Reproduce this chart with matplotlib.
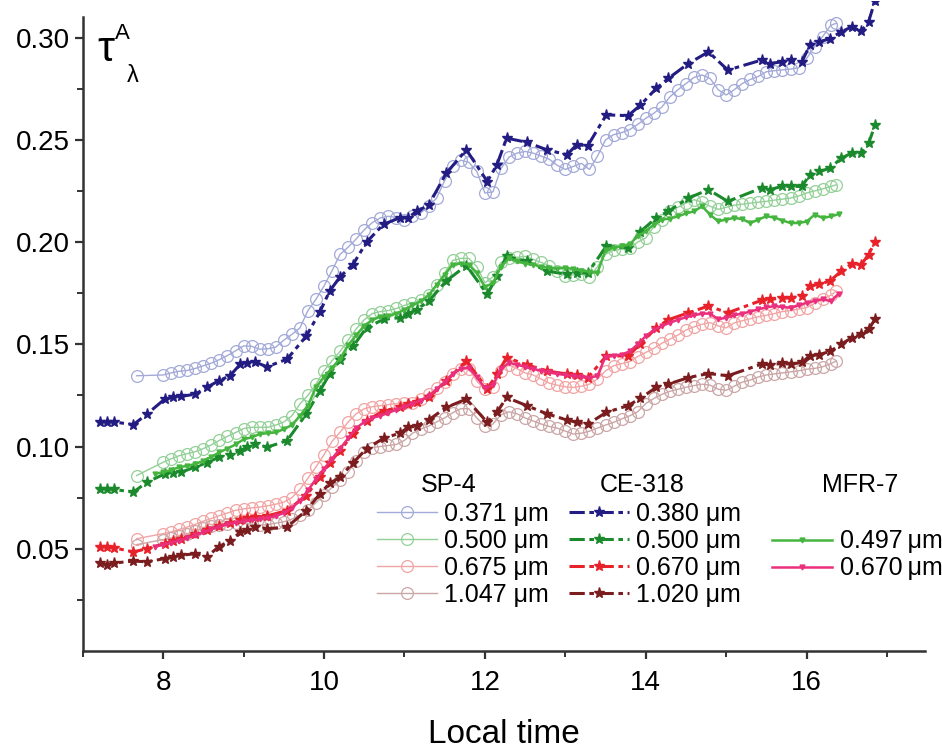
import matplotlib
matplotlib.use("Agg")
import matplotlib.pyplot as plt

plt.rcParams['font.family'] = ['Liberation Sans', 'DejaVu Sans']

# SP-4 sun photometer (open circles)
sp_time = [7.67, 8.0, 8.1, 8.2, 8.3, 8.4, 8.5, 8.6, 8.7, 8.8, 8.9, 9.0, 9.1, 9.2, 9.3, 9.4, 9.5,
           9.6, 9.7, 9.8, 9.9, 10.0, 10.1, 10.2, 10.3, 10.4, 10.5, 10.6, 10.7, 10.8, 10.9, 11.0,
           11.1, 11.2, 11.3, 11.4, 11.5, 11.6, 11.7, 11.8, 11.9, 12.0, 12.1, 12.2, 12.3, 12.4,
           12.5, 12.6, 12.7, 12.8, 12.9, 13.0, 13.1, 13.2, 13.3, 13.4, 13.5, 13.6, 13.7, 13.8,
           13.9, 14.0, 14.1, 14.2, 14.3, 14.4, 14.5, 14.6, 14.7, 14.8, 14.9, 15.0, 15.1, 15.2,
           15.3, 15.4, 15.5, 15.6, 15.7, 15.8, 15.9, 16.0, 16.1, 16.2, 16.3, 16.37]
sp_371 = [0.1346, 0.1350, 0.1360, 0.1368, 0.1372, 0.1382, 0.1395, 0.1408, 0.1425, 0.1445, 0.1468,
          0.1492, 0.1490, 0.1476, 0.1478, 0.1486, 0.1520, 0.1548, 0.1580, 0.1665, 0.1720, 0.1785,
          0.1860, 0.1940, 0.1975, 0.2015, 0.2060, 0.2095, 0.2118, 0.2126, 0.2120, 0.2110, 0.2125,
          0.2142, 0.2175, 0.2215, 0.2300, 0.2370, 0.2400, 0.2390, 0.2345, 0.2240, 0.2245, 0.2360,
          0.2415, 0.2435, 0.2443, 0.2435, 0.2420, 0.2405, 0.2375, 0.2355, 0.2370, 0.2385, 0.2355,
          0.2420, 0.2500, 0.2525, 0.2535, 0.2550, 0.2575, 0.2605, 0.2630, 0.2660, 0.2710, 0.2745,
          0.2775, 0.2805, 0.2817, 0.2800, 0.2745, 0.2719, 0.2745, 0.2775, 0.2795, 0.2810, 0.2833,
          0.2838, 0.2842, 0.2846, 0.2852, 0.2898, 0.2955, 0.3005, 0.3060, 0.3070]
sp_500 = [0.0858, 0.0923, 0.0940, 0.0955, 0.0965, 0.0975, 0.0990, 0.1008, 0.1030, 0.1050, 0.1068,
          0.1088, 0.1094, 0.1094, 0.1094, 0.1105, 0.1120, 0.1150, 0.1208, 0.1250, 0.1305, 0.1370,
          0.1420, 0.1465, 0.1520, 0.1575, 0.1620, 0.1650, 0.1660, 0.1665, 0.1675, 0.1690, 0.1703,
          0.1715, 0.1740, 0.1790, 0.1850, 0.1910, 0.1920, 0.1920, 0.1880, 0.1800, 0.1830, 0.1900,
          0.1922, 0.1925, 0.1930, 0.1915, 0.1900, 0.1885, 0.1860, 0.1835, 0.1840, 0.1842, 0.1830,
          0.1880, 0.1940, 0.1960, 0.1965, 0.1971, 0.2000, 0.2020, 0.2075, 0.2110, 0.2150, 0.2170,
          0.2190, 0.2207, 0.2195, 0.2175, 0.2160, 0.2170, 0.2180, 0.2185, 0.2190, 0.2195, 0.2199,
          0.2205, 0.2210, 0.2215, 0.2225, 0.2240, 0.2250, 0.2260, 0.2272, 0.2280]
sp_675 = [0.0549, 0.0574, 0.0582, 0.0595, 0.0606, 0.0620, 0.0635, 0.0648, 0.0662, 0.0675, 0.0688,
          0.0695, 0.0700, 0.0704, 0.0710, 0.0718, 0.0728, 0.0750, 0.0790, 0.0845, 0.0900, 0.0960,
          0.1025, 0.1070, 0.1120, 0.1160, 0.1185, 0.1195, 0.1200, 0.1205, 0.1210, 0.1212, 0.1215,
          0.1230, 0.1255, 0.1285, 0.1315, 0.1355, 0.1380, 0.1380, 0.1320, 0.1280, 0.1290, 0.1370,
          0.1400, 0.1380, 0.1360, 0.1350, 0.1330, 0.1310, 0.1300, 0.1292, 0.1289, 0.1295, 0.1305,
          0.1330, 0.1370, 0.1395, 0.1405, 0.1415, 0.1440, 0.1460, 0.1480, 0.1505, 0.1525, 0.1545,
          0.1570, 0.1585, 0.1598, 0.1606, 0.1590, 0.1580, 0.1605, 0.1615, 0.1625, 0.1635, 0.1642,
          0.1650, 0.1660, 0.1665, 0.1672, 0.1679, 0.1700, 0.1720, 0.1740, 0.1760]
sp_1047 = [0.0520, 0.0545, 0.0552, 0.0560, 0.0570, 0.0585, 0.0600, 0.0610, 0.0618, 0.0622, 0.0625,
           0.0625, 0.0620, 0.0615, 0.0618, 0.0625, 0.0632, 0.0645, 0.0665, 0.0690, 0.0725, 0.0765,
           0.0800, 0.0835, 0.0875, 0.0930, 0.0975, 0.0995, 0.1000, 0.1005, 0.1010, 0.1030, 0.1065,
           0.1085, 0.1100, 0.1120, 0.1140, 0.1165, 0.1185, 0.1185, 0.1140, 0.1100, 0.1110, 0.1155,
           0.1170, 0.1160, 0.1140, 0.1125, 0.1110, 0.1098, 0.1090, 0.1075, 0.1061, 0.1065, 0.1075,
           0.1090, 0.1105, 0.1118, 0.1135, 0.1150, 0.1170, 0.1210, 0.1235, 0.1255, 0.1270, 0.1280,
           0.1290, 0.1298, 0.1305, 0.1300, 0.1280, 0.1275, 0.1295, 0.1315, 0.1325, 0.1340, 0.1350,
           0.1355, 0.1360, 0.1365, 0.1370, 0.1378, 0.1382, 0.1390, 0.1405, 0.1419]

# CE-318 (stars)
ce_time = [7.21, 7.30, 7.39, 7.63, 7.80, 8.02, 8.12, 8.22, 8.40, 8.54, 8.69, 8.83, 8.96, 9.04, 9.14,
           9.29, 9.54, 9.78, 9.95, 10.07, 10.20, 10.36, 10.53, 10.74, 10.94, 11.05, 11.15, 11.30,
           11.52, 11.77, 12.03, 12.15, 12.27, 12.52, 12.77, 13.02, 13.14, 13.28, 13.51, 13.78,
           13.93, 14.13, 14.28, 14.53, 14.78, 15.02, 15.44, 15.54, 15.69, 15.81, 15.94, 16.04,
           16.16, 16.29, 16.43, 16.56, 16.68, 16.77, 16.85]
ce_380 = [0.112, 0.112, 0.112, 0.1107, 0.1159, 0.1232, 0.124, 0.1245, 0.1256, 0.1289, 0.1321, 0.1346,
          0.1403, 0.141, 0.1414, 0.139, 0.1427, 0.154, 0.166, 0.176, 0.183, 0.189, 0.200, 0.2087,
          0.2118, 0.212, 0.215, 0.218, 0.2337, 0.2451, 0.2296, 0.2378, 0.2508, 0.2488, 0.2451,
          0.2427, 0.2475, 0.2472, 0.2622, 0.2618, 0.2668, 0.2751, 0.280, 0.2873, 0.293, 0.2841,
          0.289, 0.2873, 0.2881, 0.289, 0.2881, 0.2963, 0.2979, 0.2995, 0.3028, 0.3052, 0.3031,
          0.3077, 0.318]
ce_500 = [0.0793, 0.0793, 0.079, 0.0777, 0.0826, 0.0866, 0.087, 0.0874, 0.090, 0.092, 0.0947, 0.096,
          0.098, 0.0996, 0.1013, 0.0996, 0.1029, 0.1159, 0.1273, 0.1354, 0.1425, 0.149, 0.1581,
          0.1622, 0.1630, 0.165, 0.167, 0.171, 0.181, 0.1885, 0.1744, 0.1833, 0.1931, 0.1906,
          0.1858, 0.1842, 0.1849, 0.1849, 0.198, 0.1971, 0.205, 0.2118, 0.215, 0.2215, 0.2256,
          0.2199, 0.2264, 0.2256, 0.2272, 0.2272, 0.2272, 0.2329, 0.2345, 0.2361, 0.241, 0.2435,
          0.2435, 0.2483, 0.257]
ce_670 = [0.0509, 0.0509, 0.0505, 0.0484, 0.0501, 0.0525, 0.054, 0.055, 0.057, 0.059, 0.061, 0.0625,
          0.064, 0.065, 0.0655, 0.066, 0.0687, 0.076, 0.085, 0.092, 0.098, 0.1061, 0.1126, 0.1175,
          0.1191, 0.121, 0.122, 0.124, 0.1321, 0.1419, 0.1281, 0.1354, 0.1435, 0.140, 0.137,
          0.1354, 0.135, 0.1337, 0.1443, 0.1443, 0.150, 0.158, 0.162, 0.1654, 0.1687, 0.1654,
          0.1715, 0.172, 0.1725, 0.1727, 0.1736, 0.1784, 0.1795, 0.1809, 0.1858, 0.1893, 0.189,
          0.1939, 0.2]
ce_1020 = [0.0431, 0.0421, 0.043, 0.044, 0.0436, 0.0452, 0.046, 0.0468, 0.0476, 0.046, 0.0509, 0.054,
           0.058, 0.059, 0.0606, 0.0598, 0.0606, 0.0687, 0.0769, 0.082, 0.085, 0.092, 0.099, 0.104,
           0.1065, 0.1094, 0.110, 0.113, 0.1191, 0.1232, 0.1118, 0.1167, 0.124, 0.120, 0.116, 0.113,
           0.1118, 0.111, 0.1167, 0.120, 0.1235, 0.1289, 0.1305, 0.1337, 0.1357, 0.1346, 0.1403,
           0.140, 0.1406, 0.1403, 0.1411, 0.1443, 0.145, 0.1465, 0.150, 0.1532, 0.1549, 0.1573,
           0.1622]

# MFR-7 (triangles)
mfr_time = [7.9, 8.0, 8.1, 8.2, 8.3, 8.4, 8.5, 8.6, 8.7, 8.8, 8.9, 9.0, 9.1, 9.2, 9.3, 9.4, 9.5,
            9.6, 9.7, 9.8, 9.9, 10.0, 10.1, 10.2, 10.3, 10.4, 10.5, 10.6, 10.7, 10.8, 10.9, 11.0,
            11.1, 11.2, 11.3, 11.4, 11.5, 11.6, 11.7, 11.8, 11.9, 12.0, 12.1, 12.2, 12.3, 12.4,
            12.5, 12.6, 12.7, 12.8, 12.9, 13.0, 13.1, 13.2, 13.3, 13.4, 13.5, 13.6, 13.7, 13.8,
            13.9, 14.0, 14.1, 14.2, 14.3, 14.4, 14.5, 14.6, 14.7, 14.8, 14.9, 15.0, 15.1, 15.2,
            15.3, 15.4, 15.5, 15.6, 15.7, 15.8, 15.9, 16.0, 16.1, 16.2, 16.3, 16.4]
mfr_497 = [0.0866, 0.0875, 0.0885, 0.0899, 0.0905, 0.0915, 0.0930, 0.0950, 0.0972, 0.0990, 0.1010,
           0.1035, 0.1045, 0.1061, 0.1065, 0.1069, 0.1085, 0.1105, 0.1150, 0.1200, 0.1290, 0.1340,
           0.1385, 0.1430, 0.1495, 0.1545, 0.1590, 0.1620, 0.1635, 0.1640, 0.1650, 0.1670, 0.1690,
           0.1710, 0.1740, 0.1790, 0.1840, 0.1890, 0.1895, 0.1890, 0.1850, 0.1780, 0.1800, 0.1880,
           0.1920, 0.1905, 0.1895, 0.1890, 0.1880, 0.1874, 0.1870, 0.1874, 0.1868, 0.1860, 0.1855,
           0.1850, 0.1960, 0.1971, 0.1980, 0.1988, 0.2030, 0.2053, 0.2085, 0.2110, 0.2115, 0.2125,
           0.2140, 0.2150, 0.2175, 0.2134, 0.2101, 0.2110, 0.2118, 0.2112, 0.2093, 0.2110, 0.2126,
           0.2120, 0.2105, 0.2093, 0.2093, 0.2100, 0.2134, 0.2118, 0.2125, 0.2137]
mfr_670 = [0.0510, 0.0520, 0.0530, 0.0540, 0.0552, 0.0565, 0.0580, 0.0595, 0.0608, 0.0620, 0.0628,
           0.0635, 0.0640, 0.0645, 0.0650, 0.0660, 0.0675, 0.0700, 0.0735, 0.0785, 0.0840, 0.0890,
           0.0940, 0.0990, 0.1040, 0.1090, 0.1120, 0.1140, 0.1150, 0.1165, 0.1180, 0.1195, 0.1210,
           0.1225, 0.1245, 0.1280, 0.1315, 0.1355, 0.1380, 0.1385, 0.1340, 0.1285, 0.1300, 0.1380,
           0.1410, 0.1400, 0.1390, 0.1380, 0.1370, 0.1362, 0.1355, 0.1350, 0.1345, 0.1340, 0.1337,
           0.1345, 0.1440, 0.1445, 0.1450, 0.1465, 0.1500, 0.1540, 0.1570, 0.1590, 0.1605, 0.1620,
           0.1632, 0.1642, 0.1650, 0.1650, 0.1622, 0.1630, 0.1642, 0.1650, 0.1660, 0.1671, 0.1680,
           0.1687, 0.1682, 0.1679, 0.1690, 0.1703, 0.1712, 0.1720, 0.1711, 0.1747]

sp_labels = ["0.371 \u03bcm", "0.500 \u03bcm", "0.675 \u03bcm", "1.047 \u03bcm"]
ce_labels = ["0.380 \u03bcm", "0.500 \u03bcm", "0.670 \u03bcm", "1.020 \u03bcm"]
mfr_labels = ["0.497\u2009\u03bcm", "0.670\u2009\u03bcm"]

sp_colors = ["#a3aad8", "#93d097", "#f2a4a4", "#cba6a6"]
ce_colors = ["#231c82", "#1b8a2c", "#e8222a", "#7b1c1e"]
mfr_colors = ["#45b53f", "#ea2f7d"]

fig = plt.figure(figsize=(9.42, 7.5), dpi=100)
ax = fig.add_axes([0.0878, 0.132, 0.894, 0.867])

sp_vals = [sp_371, sp_500, sp_675, sp_1047]
ce_vals = [ce_380, ce_500, ce_670, ce_1020]
mfr_vals = [mfr_497, mfr_670]

sp_h, ce_h, mfr_h = [], [], []
for v, c, lab in zip(sp_vals, sp_colors, sp_labels):
    h, = ax.plot(sp_time, v, color=c, lw=1.0, marker='o', ms=8.5, mfc='none', mec=c, mew=0.9,
                 label=lab, zorder=2)
    sp_h.append(h)
for v, c, lab in zip(ce_vals, ce_colors, ce_labels):
    h, = ax.plot(ce_time, v, color=c, lw=2.2, ls=(0, (5, 1.5, 1.5, 1.5)), marker='*', ms=8,
                 mec=c, mfc=c, label=lab, zorder=3)
    ce_h.append(h)
for v, c, lab in zip(mfr_vals, mfr_colors, mfr_labels):
    h, = ax.plot(mfr_time, v, color=c, lw=1.8, marker='v', ms=3.5, mec=c, mfc=c,
                 label=lab, zorder=4)
    mfr_h.append(h)

ax.set_xlim(7, 17.47)
ax.set_ylim(0, 0.318)
ax.spines['top'].set_visible(False)
ax.spines['right'].set_visible(False)
ax.spines['left'].set_bounds(0, 0.31)
for s in ['left', 'bottom']:
    ax.spines[s].set_linewidth(1.8)
    ax.spines[s].set_color('#333333')

ax.set_xticks([8, 10, 12, 14, 16])
ax.set_xticks([7, 9, 11, 13, 15, 17], minor=True)
ax.set_yticks([0.05, 0.10, 0.15, 0.20, 0.25, 0.30])
ax.set_yticklabels(["0.05", "0.10", "0.15", "0.20", "0.25", "0.30"])
ax.set_yticks([0.025, 0.075, 0.125, 0.175, 0.225, 0.275], minor=True)
ax.tick_params(which='major', length=6, width=1.6, labelsize=20, color='#333333', pad=3)
ax.tick_params(axis='x', which='major', pad=8)
ax.tick_params(which='minor', length=4, width=1.4, color='#333333')
ax.set_xlabel("Local time", fontsize=24, labelpad=16)

# axis title
ax.text(0.018, 0.925, "\u03c4", transform=ax.transAxes, fontsize=31, ha='left', va='center')
ax.text(0.038, 0.95, "A", transform=ax.transAxes, fontsize=16, ha='left', va='center')
ax.text(0.053, 0.884, "\u03bb", transform=ax.transAxes, fontsize=17, ha='left', va='center')

# one legend per instrument, with headers above
leg_kw = dict(loc='upper left', frameon=False, fontsize=18, handlelength=2.4,
              handletextpad=0.3, labelspacing=0.12, borderpad=0, borderaxespad=0)
leg1 = ax.legend(sp_h, sp_labels, bbox_to_anchor=(0.349, 0.229), **leg_kw)
ax.add_artist(leg1)
leg2 = ax.legend(ce_h, ce_labels, bbox_to_anchor=(0.577, 0.229), **leg_kw)
ax.add_artist(leg2)
ax.legend(mfr_h, mfr_labels, bbox_to_anchor=(0.819, 0.187), **leg_kw)

fig.text(449 / 942, 1 - 485 / 750, "SP-4", fontsize=18, ha='center', va='center')
fig.text(642 / 942, 1 - 485 / 750, "CE-318", fontsize=18, ha='center', va='center')
fig.text(860 / 942, 1 - 485 / 750, "MFR-7", fontsize=18, ha='center', va='center')

fig.savefig("out.png", dpi=100)
